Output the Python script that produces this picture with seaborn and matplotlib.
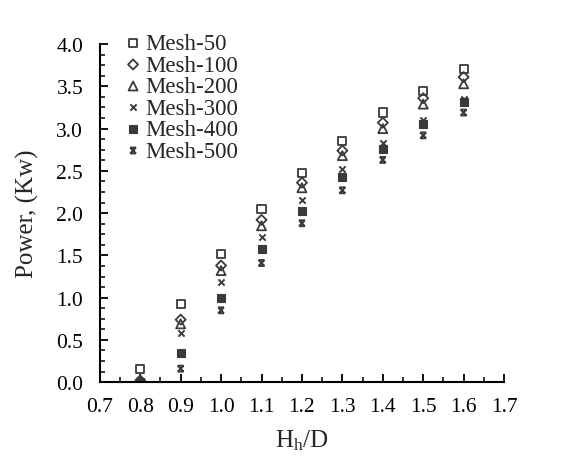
import numpy as np
import pandas as pd
import matplotlib
matplotlib.use("Agg")
import matplotlib.pyplot as plt
from matplotlib.path import Path
from matplotlib.ticker import MultipleLocator, FormatStrFormatter
import seaborn as sns

hh_d = [0.8, 0.9, 1.0, 1.1, 1.2, 1.3, 1.4, 1.5, 1.6]
mesh_50 = [0.16, 0.92, 1.52, 2.05, 2.47, 2.85, 3.19, 3.45, 3.70]
mesh_100 = [0.02, 0.74, 1.38, 1.92, 2.36, 2.74, 3.07, 3.36, 3.61]
mesh_200 = [0.01, 0.69, 1.32, 1.85, 2.30, 2.68, 3.00, 3.29, 3.53]
mesh_300 = [0.01, 0.58, 1.19, 1.72, 2.15, 2.52, 2.83, 3.10, 3.35]
mesh_400 = [0.00, 0.34, 1.00, 1.57, 2.03, 2.43, 2.76, 3.06, 3.32]
mesh_500 = [0.00, 0.16, 0.85, 1.41, 1.88, 2.27, 2.63, 2.92, 3.19]
series_names = ["Mesh-50", "Mesh-100", "Mesh-200", "Mesh-300", "Mesh-400", "Mesh-500"]
series_values = [mesh_50, mesh_100, mesh_200, mesh_300, mesh_400, mesh_500]

sns.set_theme(style="ticks")
plt.rcParams["font.family"] = ["Liberation Serif", "DejaVu Serif"]
plt.rcParams["mathtext.fontset"] = "custom"
plt.rcParams["mathtext.rm"] = "Liberation Serif"
plt.rcParams["mathtext.it"] = "Liberation Serif"

# x with bars on top and bottom (bow-tie star)
star_path = Path(
    [(-1, -1), (1, 1), (-1, 1), (1, -1), (-1, 1), (1, 1), (-1, -1), (1, -1)],
    [Path.MOVETO, Path.LINETO, Path.MOVETO, Path.LINETO,
     Path.MOVETO, Path.LINETO, Path.MOVETO, Path.LINETO],
)

ink = "#3a3a3a"
styles = [
    dict(marker="s", s=34, facecolors="none", edgecolors=ink, linewidths=1.3),
    dict(marker="D", s=26, facecolors="none", edgecolors=ink, linewidths=1.3),
    dict(marker="^", s=42, facecolors="none", edgecolors=ink, linewidths=1.3),
    dict(marker="x", s=20, color=ink, linewidths=1.4),
    dict(marker="s", s=32, color=ink, edgecolors=ink, linewidths=0.8),
    dict(marker=star_path, s=18, facecolors="none", edgecolors=ink, linewidths=1.4),
]

fig = plt.figure(figsize=(5.67, 4.60), dpi=100)
ax = fig.add_axes([0.176, 0.167, 0.713, 0.735])

for name, vals, st in zip(series_names, series_values, styles):
    df = pd.DataFrame({"x": hh_d, "y": vals})
    sns.scatterplot(data=df, x="x", y="y", ax=ax, label=name, **st)

ax.set_xlim(0.7, 1.7)
ax.set_ylim(0.0, 4.0)
ax.xaxis.set_major_locator(MultipleLocator(0.1))
ax.xaxis.set_minor_locator(MultipleLocator(0.05))
ax.yaxis.set_major_locator(MultipleLocator(0.5))
ax.yaxis.set_minor_locator(MultipleLocator(0.125))
ax.xaxis.set_major_formatter(FormatStrFormatter("%.1f"))
ax.yaxis.set_major_formatter(FormatStrFormatter("%.1f"))

for side in ["top", "right"]:
    ax.spines[side].set_visible(False)
for side in ["left", "bottom"]:
    ax.spines[side].set_linewidth(1.5)
    ax.spines[side].set_color("black")

ax.tick_params(which="major", direction="in", length=6, width=1.3, colors="black",
               labelsize=15.5)
ax.tick_params(axis="x", which="major", pad=11)
ax.tick_params(axis="y", which="major", pad=12)
ax.tick_params(which="minor", direction="in", length=3.5, width=1.1, colors="black")

ax.set_xlabel(r"H$_\mathrm{h}$/D", fontsize=18, labelpad=8)
ax.set_ylabel("Power, (Kw)", fontsize=18, labelpad=12)

leg = ax.legend(loc="upper left", bbox_to_anchor=(0.037, 1.06), frameon=False,
                fontsize=16.5, handletextpad=0.15, labelspacing=0.02,
                borderaxespad=0.0, handlelength=0.8)

fig.savefig("out.png", dpi=100)
